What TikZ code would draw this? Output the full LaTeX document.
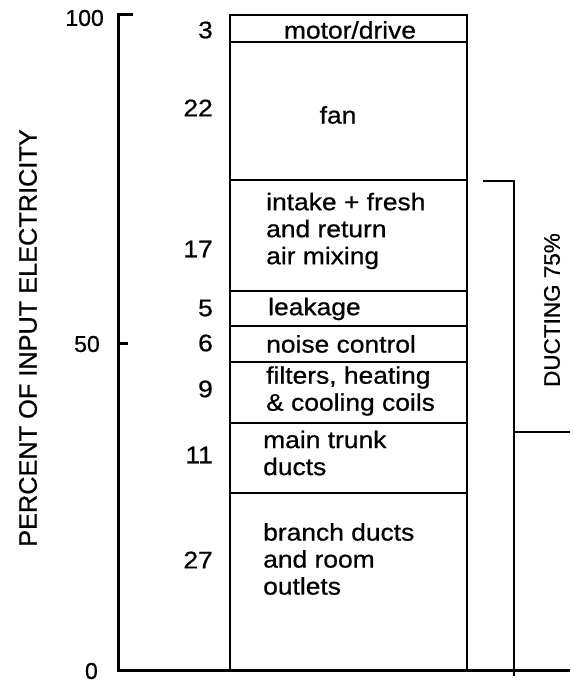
\documentclass[tikz,border=0pt]{standalone}
\usepackage{fontspec}
\setmainfont[FakeBold=0.7]{Liberation Sans}
\newfontfamily\widefont[FakeStretch=1.1, FakeBold=0.7]{Liberation Sans}
\usepackage{tikz}
\tikzset{
    axisline/.style={
        draw=black,
        line width=3pt
    },
    barline/.style={
        draw=black,
        line width=2.4pt
    },
    boxtext/.style={
        inner sep=0pt,
        align=left,
        font=\widefont\fontsize{24}{27}\selectfont
    },
    numtext/.style={
        inner sep=0pt,
        anchor=east,
        font=\widefont\fontsize{24}{27}\selectfont
    },
    axistext/.style={
        inner sep=0pt,
        anchor=east,
        font=\fontsize{23}{26}\selectfont
    }
}

\begin{document}
\begin{tikzpicture}[x=1pt, y=-1pt]
\useasboundingbox (0,0) rectangle (570,684);

% Axis
\draw[axisline] (133,15) -- (118,15) -- (118,670) -- (570,670);
\draw[axisline] (118,343) -- (128,343);
\node[axistext] (ax100) at (104,18) {100};
\node[axistext] (ax50) at (100,344) {50};
\node[axistext] (ax0) at (98,671) {0};
\node[inner sep=0pt, rotate=90, font=\fontsize{25.3}{28}\selectfont] (ytitle) at (28,338) {PERCENT OF INPUT ELECTRICITY};

% Bar
\draw[barline] (230,15) rectangle (467,670);
\foreach \y in {42,180,291,326,362,423,493} {
    \draw[barline] (230,\y) -- (467,\y);
}

% Shares
\foreach \y/\p in {30/3, 108/22, 249/17, 308/5, 343/6, 389/9, 455/11, 560/27} {
    \node[numtext] (pct\p) at (213,\y) {\p};
}

% Segment labels
\node[boxtext] (motor) at (350,30) {motor/drive};
\node[boxtext] (fan) at (338,115) {fan};
\node[boxtext, anchor=west] (intake) at (266,231) {intake + fresh\\and return\\air mixing};
\node[boxtext, anchor=west] (leak) at (268,309) {leakage};
\node[boxtext, anchor=west] (noise) at (266,344) {noise control};
\node[boxtext, anchor=west] (filters) at (266,391) {filters, heating\\\& cooling coils};
\node[boxtext, anchor=west] (trunk) at (263,453) {main trunk\\ducts};
\node[boxtext, anchor=west] (branch) at (263,559) {branch ducts\\and room\\outlets};

% Ducting bracket
\draw[barline] (483,181) -- (514,181) -- (514,676);
\draw[barline] (514,432) -- (570,432);
\node[inner sep=0pt, rotate=90, font=\fontsize{22.5}{25}\selectfont] (ducting) at (552,310) {DUCTING 75\%};

\end{tikzpicture}
\end{document}
